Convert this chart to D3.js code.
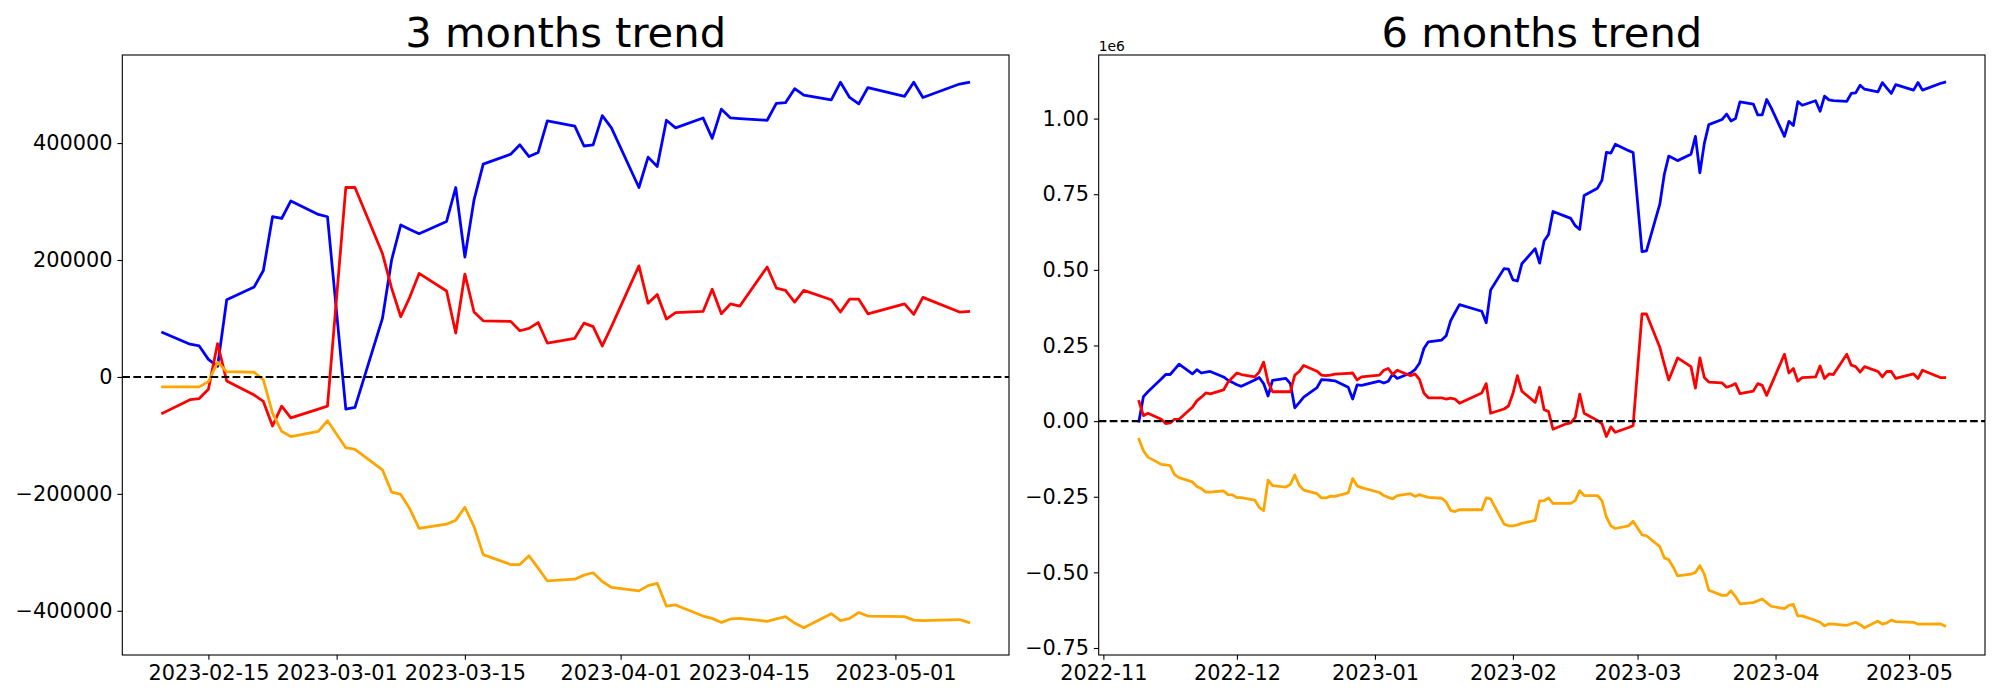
<!DOCTYPE html>
<html>
<head>
<meta charset="utf-8">
<script src="https://cdn.jsdelivr.net/npm/d3@7"></script>
<style>
  body { margin: 0; background: #fff; }
  svg { display: block; font-family: "DejaVu Sans", sans-serif; }
</style>
</head>
<body>
<svg id="chart" width="2000" height="700"></svg>
<script>
// ---- 3 months panel data ----
const dates3m = [
  "2023-02-10","2023-02-13","2023-02-14","2023-02-15","2023-02-16","2023-02-17","2023-02-20","2023-02-21","2023-02-22","2023-02-23","2023-02-24","2023-02-27","2023-02-28",
  "2023-03-02","2023-03-03","2023-03-06","2023-03-07","2023-03-08","2023-03-09","2023-03-10","2023-03-13","2023-03-14","2023-03-15","2023-03-16","2023-03-17",
  "2023-03-20","2023-03-21","2023-03-22","2023-03-23","2023-03-24","2023-03-27","2023-03-28","2023-03-29","2023-03-30","2023-03-31",
  "2023-04-03","2023-04-04","2023-04-05","2023-04-06","2023-04-07","2023-04-10","2023-04-11","2023-04-12","2023-04-13","2023-04-14",
  "2023-04-17","2023-04-18","2023-04-19","2023-04-20","2023-04-21","2023-04-24","2023-04-25","2023-04-26","2023-04-27","2023-04-28",
  "2023-05-02","2023-05-03","2023-05-04","2023-05-08","2023-05-09"
];
const blue3m = [
  76000, 56000, 53000, 30000, 18000, 132000, 154000, 182000, 274000, 271000, 301000, 278000, 274000,
  -55000, -52000, 100000, 200000, 260000, 252000, 245000, 266000, 324000, 205000, 303000, 364000,
  381000, 397000, 377000, 384000, 438000, 429000, 395000, 397000, 447000, 426000,
  324000, 376000, 360000, 439000, 426000, 443000, 408000, 458000, 443000, 442000,
  439000, 468000, 469000, 493000, 482000, 474000, 504000, 478000, 467000, 495000,
  480000, 504000, 478000, 501000, 504000
];
const red3m = [
  -62000, -39000, -37000, -21000, 57000, -7000, -31000, -42000, -84000, -50000, -70000, -55000, -50000,
  324000, 324000, 211000, 152000, 103000, 137000, 177000, 147000, 75000, 176000, 111000, 96000,
  95000, 79000, 83000, 93000, 58000, 66000, 92000, 86000, 53000, 86000,
  190000, 126000, 141000, 99000, 110000, 112000, 150000, 108000, 125000, 121000,
  188000, 152000, 148000, 128000, 148000, 132000, 111000, 133000, 133000, 108000,
  125000, 107000, 136000, 111000, 112000
];
const orange3m = [
  -17000, -17000, -17000, -8000, 25000, 9000, 8000, -5000, -62000, -93000, -102000, -93000, -75000,
  -121000, -124000, -159000, -197000, -201000, -226000, -259000, -252000, -245000, -223000, -256000, -304000,
  -321000, -321000, -306000, -327000, -349000, -346000, -339000, -335000, -350000, -360000,
  -366000, -357000, -353000, -392000, -390000, -409000, -413000, -420000, -414000, -413000,
  -418000, -414000, -410000, -421000, -429000, -405000, -417000, -413000, -403000, -409000,
  -410000, -416000, -417000, -415000, -420000
];
const xTicks3m = ["2023-02-15","2023-03-01","2023-03-15","2023-04-01","2023-04-15","2023-05-01"];
const yTicks3m = [-400000, -200000, 0, 200000, 400000];

// ---- 6 months panel data ----
const dates6m = [
  "2022-11-09","2022-11-10","2022-11-11","2022-11-14","2022-11-15","2022-11-16","2022-11-17","2022-11-18","2022-11-21","2022-11-22","2022-11-23","2022-11-24","2022-11-25","2022-11-28","2022-11-29","2022-11-30",
  "2022-12-01","2022-12-02","2022-12-05","2022-12-06","2022-12-07","2022-12-08","2022-12-09","2022-12-12","2022-12-13","2022-12-14","2022-12-15","2022-12-16","2022-12-19","2022-12-20","2022-12-21","2022-12-22","2022-12-23","2022-12-26","2022-12-27","2022-12-28","2022-12-29",
  "2023-01-02","2023-01-03","2023-01-04","2023-01-05","2023-01-06","2023-01-09","2023-01-10","2023-01-11","2023-01-12","2023-01-13","2023-01-16","2023-01-17","2023-01-18","2023-01-19","2023-01-20","2023-01-25","2023-01-26","2023-01-27","2023-01-30","2023-01-31",
  "2023-02-01","2023-02-02","2023-02-03","2023-02-06","2023-02-07","2023-02-08","2023-02-09","2023-02-10","2023-02-13","2023-02-14","2023-02-15","2023-02-16","2023-02-17","2023-02-20","2023-02-21","2023-02-22","2023-02-23","2023-02-24","2023-02-27","2023-02-28",
  "2023-03-02","2023-03-03","2023-03-06","2023-03-07","2023-03-08","2023-03-09","2023-03-10","2023-03-13","2023-03-14","2023-03-15","2023-03-16","2023-03-17","2023-03-20","2023-03-21","2023-03-22","2023-03-23","2023-03-24","2023-03-27","2023-03-28","2023-03-29","2023-03-30","2023-03-31",
  "2023-04-03","2023-04-04","2023-04-05","2023-04-06","2023-04-07","2023-04-10","2023-04-11","2023-04-12","2023-04-13","2023-04-14","2023-04-17","2023-04-18","2023-04-19","2023-04-20","2023-04-21","2023-04-24","2023-04-25","2023-04-26","2023-04-27","2023-04-28",
  "2023-05-02","2023-05-03","2023-05-04","2023-05-08","2023-05-09"
];
const blue6m = [
  0, 81000, 97000, 139000, 154000, 154000, 171000, 188000, 156000, 170000, 159000, 162000, 164000, 146000, 135000, 128000,
  120000, 115000, 136000, 144000, 124000, 83000, 135000, 141000, 124000, 44000, 61000, 79000, 111000, 137000, 136000, 135000, 133000, 112000, 73000, 120000, 118000,
  132000, 126000, 132000, 156000, 141000, 159000, 170000, 191000, 240000, 262000, 268000, 282000, 331000, 359000, 385000, 363000, 325000, 433000, 504000, 502000,
  467000, 463000, 520000, 570000, 522000, 595000, 617000, 693000, 676000, 670000, 646000, 634000, 746000, 770000, 796000, 888000, 886000, 915000, 894000, 888000,
  560000, 563000, 717000, 815000, 876000, 869000, 861000, 882000, 941000, 821000, 918000, 980000, 997000, 1015000, 992000, 1000000, 1055000, 1048000, 1012000, 1012000, 1063000, 1036000,
  941000, 991000, 977000, 1056000, 1044000, 1059000, 1024000, 1074000, 1062000, 1059000, 1057000, 1083000, 1085000, 1110000, 1097000, 1088000, 1119000, 1101000, 1083000, 1112000,
  1094000, 1119000, 1094000, 1116000, 1120000
];
const red6m = [
  65000, 18000, 26000, 6000, -8000, -6000, 6000, 6000, 46000, 67000, 79000, 93000, 90000, 103000, 129000, 144000,
  159000, 154000, 146000, 162000, 195000, 129000, 97000, 97000, 97000, 152000, 164000, 184000, 165000, 152000, 150000, 152000, 155000, 158000, 159000, 136000, 146000,
  152000, 168000, 174000, 154000, 168000, 150000, 156000, 138000, 93000, 77000, 77000, 73000, 76000, 73000, 59000, 93000, 124000, 26000, 40000, 50000,
  91000, 150000, 99000, 62000, 112000, 38000, 32000, -27000, -9000, -6000, 12000, 89000, 26000, 2000, -9000, -51000, -19000, -37000, -21000, -15000,
  354000, 354000, 244000, 188000, 136000, 172000, 209000, 180000, 109000, 209000, 144000, 129000, 126000, 112000, 117000, 124000, 91000, 99000, 124000, 118000, 85000, 119000,
  221000, 159000, 174000, 132000, 144000, 146000, 182000, 141000, 156000, 154000, 221000, 185000, 180000, 162000, 180000, 164000, 146000, 164000, 164000, 141000,
  156000, 141000, 168000, 144000, 144000
];
const orange6m = [
  -60000, -98000, -119000, -143000, -145000, -147000, -177000, -187000, -201000, -216000, -223000, -235000, -235000, -231000, -243000, -244000,
  -253000, -253000, -261000, -285000, -296000, -195000, -213000, -218000, -209000, -178000, -212000, -228000, -240000, -254000, -254000, -248000, -249000, -237000, -190000, -214000, -220000,
  -236000, -246000, -252000, -257000, -246000, -240000, -249000, -243000, -248000, -252000, -255000, -267000, -295000, -299000, -293000, -293000, -254000, -257000, -340000, -346000,
  -346000, -343000, -338000, -328000, -264000, -263000, -254000, -272000, -272000, -272000, -263000, -230000, -246000, -246000, -263000, -317000, -346000, -355000, -346000, -331000,
  -376000, -379000, -415000, -452000, -458000, -482000, -512000, -506000, -500000, -478000, -506000, -559000, -576000, -576000, -561000, -580000, -604000, -600000, -594000, -588000, -600000, -612000,
  -620000, -609000, -606000, -644000, -644000, -659000, -665000, -677000, -670000, -671000, -675000, -670000, -665000, -673000, -683000, -661000, -671000, -667000, -658000, -663000,
  -665000, -671000, -671000, -670000, -677000
];
const xTicks6m = ["2022-11-01","2022-12-01","2023-01-01","2023-02-01","2023-03-01","2023-04-01","2023-05-01"];
const yTicks6m = [-750000, -500000, -250000, 0, 250000, 500000, 750000, 1000000];

const svg = d3.select("#chart");
const parse = d3.timeParse("%Y-%m-%d");
const minus = s => String(s).replace("-", "\u2212");

// matplotlib style 5% margins
function padded(ext) {
  const span = ext[1] - ext[0];
  return [ext[0] - 0.05 * span, ext[1] + 0.05 * span];
}

function drawPanel(p) {
  const dates = p.dates.map(parse);
  const x = d3.scaleTime()
    .domain(padded(d3.extent(dates, d => +d)).map(t => new Date(t)))
    .range([p.left, p.right]);
  const allValues = p.series.flatMap(s => s.values);
  const y = d3.scaleLinear()
    .domain(padded(d3.extent(allValues)))
    .range([p.bottom, p.top]);

  const g = svg.append("g");

  const line = d3.line()
    .x(d => x(d[0]))
    .y(d => y(d[1]));

  p.series.forEach(s => {
    g.append("path")
      .datum(s.values.map((v, i) => [dates[i], v]))
      .attr("fill", "none")
      .attr("stroke", s.color)
      .attr("stroke-width", 2.78)
      .attr("stroke-linejoin", "round")
      .attr("stroke-linecap", "square")
      .attr("d", line);
  });

  // dashed zero line
  g.append("line")
    .attr("x1", p.left).attr("x2", p.right)
    .attr("y1", y(0)).attr("y2", y(0))
    .attr("stroke", "#000")
    .attr("stroke-width", 2.08)
    .attr("stroke-dasharray", "7.7,3.33");

  // axes
  const xAxis = d3.axisBottom(x)
    .tickValues(p.xticks.map(parse))
    .tickFormat(p.xfmt)
    .tickSize(4.86).tickPadding(4.86).tickSizeOuter(0);
  const yAxis = d3.axisLeft(y)
    .tickValues(p.yticks)
    .tickFormat(p.yfmt)
    .tickSize(4.86).tickPadding(4.86).tickSizeOuter(0);

  [[xAxis, `translate(0,${p.bottom})`], [yAxis, `translate(${p.left},0)`]].forEach(([ax, tr]) => {
    const a = g.append("g").attr("transform", tr).call(ax);
    a.select(".domain").remove();
    a.attr("font-family", "DejaVu Sans").attr("font-size", 20.83);
    a.selectAll(".tick line").attr("stroke", "#000").attr("stroke-width", 1.1);
    a.selectAll(".tick text").attr("fill", "#000");
  });

  // frame
  g.append("rect")
    .attr("x", p.left).attr("y", p.top)
    .attr("width", p.right - p.left).attr("height", p.bottom - p.top)
    .attr("fill", "none").attr("stroke", "#000").attr("stroke-width", 1.1);

  // title
  g.append("text")
    .attr("x", (p.left + p.right) / 2).attr("y", p.top - 8.3)
    .attr("text-anchor", "middle")
    .attr("font-size", 41.67)
    .attr("fill", "#000")
    .text(p.title);

  if (p.offsetText) {
    g.append("text")
      .attr("x", p.left).attr("y", p.top - 4)
      .attr("font-size", 13.9)
      .attr("fill", "#000")
      .text(p.offsetText);
  }
}

drawPanel({
  title: "3 months trend",
  left: 122.3, right: 1009, top: 55, bottom: 655,
  dates: dates3m,
  series: [
    { color: "blue", values: blue3m },
    { color: "red", values: red3m },
    { color: "orange", values: orange3m }
  ],
  xticks: xTicks3m, xfmt: d3.timeFormat("%Y-%m-%d"),
  yticks: yTicks3m, yfmt: d => minus(d)
});

drawPanel({
  title: "6 months trend",
  left: 1098.7, right: 1985, top: 55, bottom: 655,
  dates: dates6m,
  series: [
    { color: "blue", values: blue6m },
    { color: "red", values: red6m },
    { color: "orange", values: orange6m }
  ],
  xticks: xTicks6m, xfmt: d3.timeFormat("%Y-%m"),
  yticks: yTicks6m, yfmt: d => minus((d / 1e6).toFixed(2)),
  offsetText: "1e6"
});
</script>
</body>
</html>
